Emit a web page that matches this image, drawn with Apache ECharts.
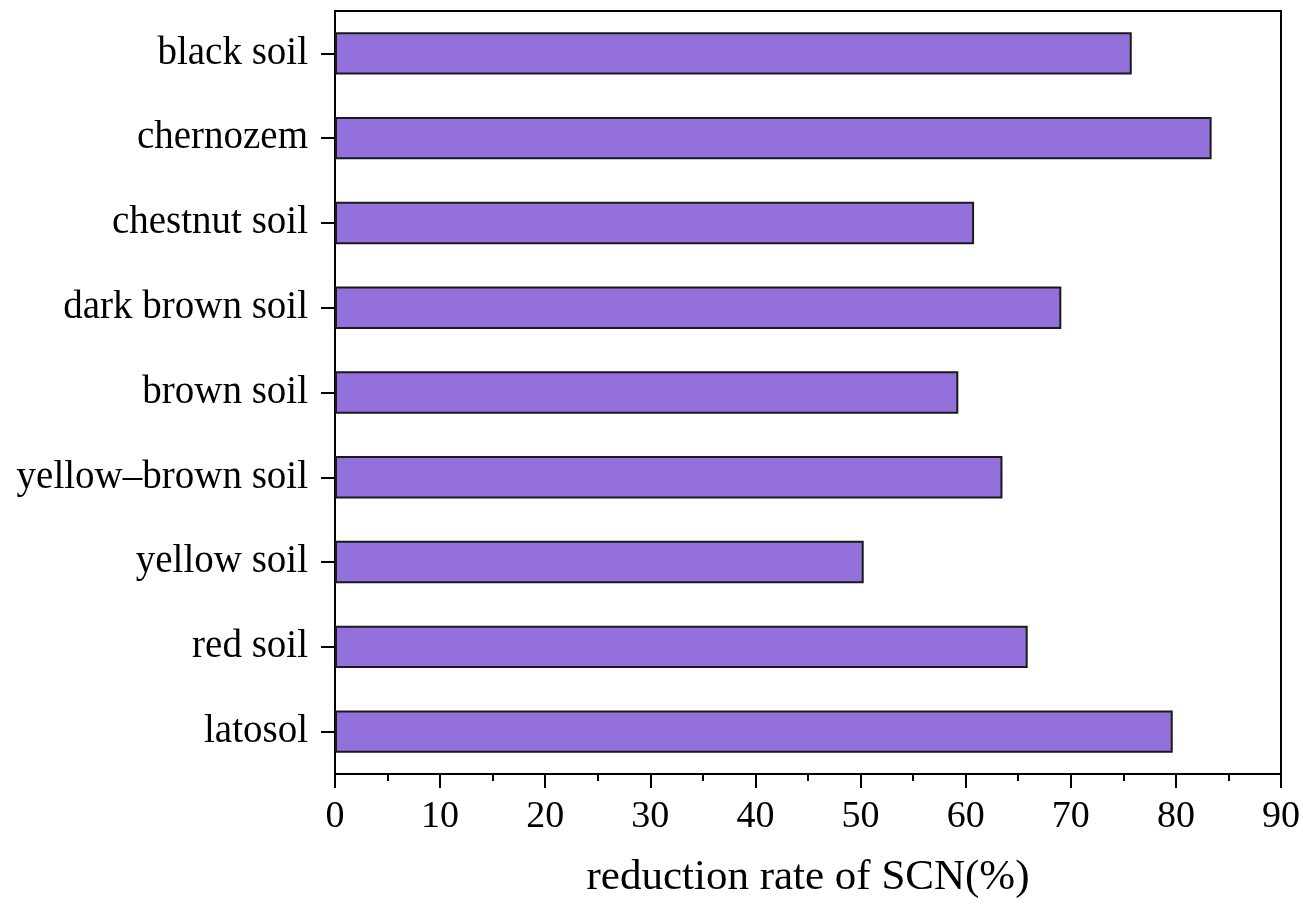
<!DOCTYPE html>
<html>
<head>
<meta charset="utf-8">
<title>Reduction rate of SCN by soil type</title>
<script src="https://cdn.jsdelivr.net/npm/echarts@6/dist/echarts.min.js"></script>
<style>
  html, body { margin: 0; padding: 0; background: #ffffff; }
  #chart { width: 1303px; height: 906px; }
</style>
</head>
<body>
<div id="chart"></div>
<script>
// Soil types, listed top to bottom
const soilTypes = [
  'black soil',
  'chernozem',
  'chestnut soil',
  'dark brown soil',
  'brown soil',
  'yellow\u2013brown soil',
  'yellow soil',
  'red soil',
  'latosol'
];

// Reduction rate of SCN (%) for each soil type
const reductionRate = [75.8, 83.4, 60.8, 69.1, 59.3, 63.5, 50.3, 65.9, 79.7];

// Value axis range and step
const axisMin = 0;
const axisMax = 90;
const axisStep = 10;

const FONT = "'Liberation Serif', 'Times New Roman', serif";

const chart = echarts.init(document.getElementById('chart'), null, { renderer: 'canvas' });

chart.setOption({
  animation: false,
  backgroundColor: '#ffffff',
  grid: {
    left: 335,
    right: 22,
    top: 11,
    bottom: 132,
    show: true,
    borderColor: '#000000',
    borderWidth: 2,
    backgroundColor: 'transparent'
  },
  xAxis: {
    type: 'value',
    min: axisMin,
    max: axisMax,
    interval: axisStep,
    name: 'reduction rate of SCN(%)',
    nameLocation: 'middle',
    nameGap: 82,
    nameTextStyle: { fontFamily: FONT, fontSize: 43, color: '#000000' },
    axisLine: { show: true, onZero: false, lineStyle: { color: '#000000', width: 2 } },
    axisTick: { show: true, inside: false, length: 14, lineStyle: { color: '#000000', width: 2 } },
    minorTick: { show: true, splitNumber: 2, length: 7, lineStyle: { color: '#000000', width: 2 } },
    splitLine: { show: false },
    axisLabel: { fontFamily: FONT, fontSize: 38, color: '#000000', margin: 24 }
  },
  yAxis: {
    type: 'category',
    data: soilTypes,
    inverse: true,
    axisLine: { show: true, lineStyle: { color: '#000000', width: 2 } },
    axisTick: { show: true, inside: false, alignWithLabel: true, length: 14, lineStyle: { color: '#000000', width: 2 } },
    splitLine: { show: false },
    axisLabel: { fontFamily: FONT, fontSize: 39, color: '#000000', margin: 27 }
  },
  series: [{
    type: 'bar',
    data: reductionRate,
    barWidth: '50%',
    itemStyle: {
      color: '#9370DB',
      borderColor: '#1a1a1a',
      borderWidth: 2
    }
  }]
});
</script>
</body>
</html>
